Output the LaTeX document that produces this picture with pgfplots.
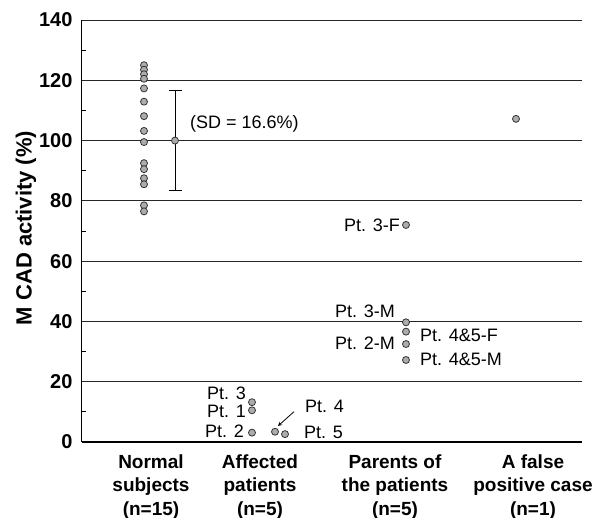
\documentclass[border=0pt]{standalone}
\usepackage{fontspec}
\setmainfont{Liberation Sans}
\usepackage{pgfplots}
\pgfplotsset{compat=1.18}
\pgfplotsset{dotstyle/.style={only marks, mark=*, mark size=3.5pt, mark options={fill=gray!65, draw=black!80, line width=0.8pt}}}
\begin{document}
\begin{tikzpicture}
\begin{axis}[
  x=1pt, y=3.0143pt,
  xmin=82, xmax=582, ymin=0, ymax=140,
  axis x line=bottom, axis y line=left,
  axis line style={-, black, line width=1pt},
  x axis line style={line width=1.6pt},
  ytick={0,20,...,140}, minor ytick={10,30,...,130},
  ymajorgrids, major grid style={black!85, line width=0.9pt},
  major tick length=0pt, minor tick length=4pt, tick align=inside,
  minor tick style={black, line width=0.8pt},
  xtick={151,260,395,533},
  xticklabels={{Normal\\subjects\\(n=15)},{Affected\\patients\\(n=5)},{Parents of\\the patients\\(n=5)},{A false\\positive case\\(n=1)}},
  xticklabel style={align=center, font=\fontsize{19}{23.5}\selectfont\bfseries, yshift=-9pt},
  yticklabel style={font=\fontsize{20}{24}\selectfont\bfseries, xshift=-6pt},
  /pgf/number format/assume math mode=true,
  clip=false,
]
\coordinate (bbBL) at (axis cs:0,-25.21);
\coordinate (bbTR) at (axis cs:600,146.63);
% normal subjects
\addplot[dotstyle] coordinates {
(144,125) (144,123.5) (144,122) (144,120.5) (144,117.3) (144,112.9) (144,108.1) (144,103.2) (144,99.5)
(144,92.5) (144,90.5) (144,87.5) (144,85.5) (144,78.5) (144,76.5)};
% mean with SD
\addplot[dotstyle,
  error bars/.cd, y dir=both, y explicit,
  error bar style={black, line width=0.8pt},
  error mark options={rotate=90, mark size=6.5pt, line width=0.8pt}] coordinates {(175,100) +- (0,16.6)};
% affected patients
\addplot[dotstyle] coordinates {
(252,13.2) (252,10.5) (252,3.1) (275,3.4) (285,2.6)};
% parents
\addplot[dotstyle] coordinates {
(406,72) (406,39.7) (406,36.6) (406,32.5) (406,27.2)};
% false positive
\addplot[dotstyle] coordinates {
(516,107.2)};
\begin{scope}[every node/.style={font=\fontsize{18}{21}\selectfont, inner sep=0pt}]
\node[anchor=west] at (axis cs:190,105.7) {(SD = 16.6\%)};
\node[anchor=east] at (axis cs:246,16.3) {Pt. 3};
\node[anchor=east] at (axis cs:246,10.05) {Pt. 1};
\node[anchor=east] at (axis cs:244,3.4) {Pt. 2};
\node[anchor=west] at (axis cs:305,11.7) {Pt. 4};
\node[anchor=west] at (axis cs:304,3.3) {Pt. 5};
\node[anchor=east] at (axis cs:400,72) {Pt. 3-F};
\node[anchor=east] at (axis cs:395,43.2) {Pt. 3-M};
\node[anchor=east] at (axis cs:395,32.7) {Pt. 2-M};
\node[anchor=west] at (axis cs:420,35.5) {Pt. 4\&5-F};
\node[anchor=west] at (axis cs:420,27.4) {Pt. 4\&5-M};
\end{scope}
\draw[->, line width=0.8pt, >=stealth] (axis cs:294,10.05) -- (axis cs:278,5.3);
\node[rotate=90, font=\fontsize{22}{26}\selectfont\bfseries] at (axis cs:26,71) {M CAD activity (\%)};
\end{axis}
\pgfresetboundingbox
\useasboundingbox (bbBL) rectangle (bbTR);
\end{tikzpicture}
\end{document}
